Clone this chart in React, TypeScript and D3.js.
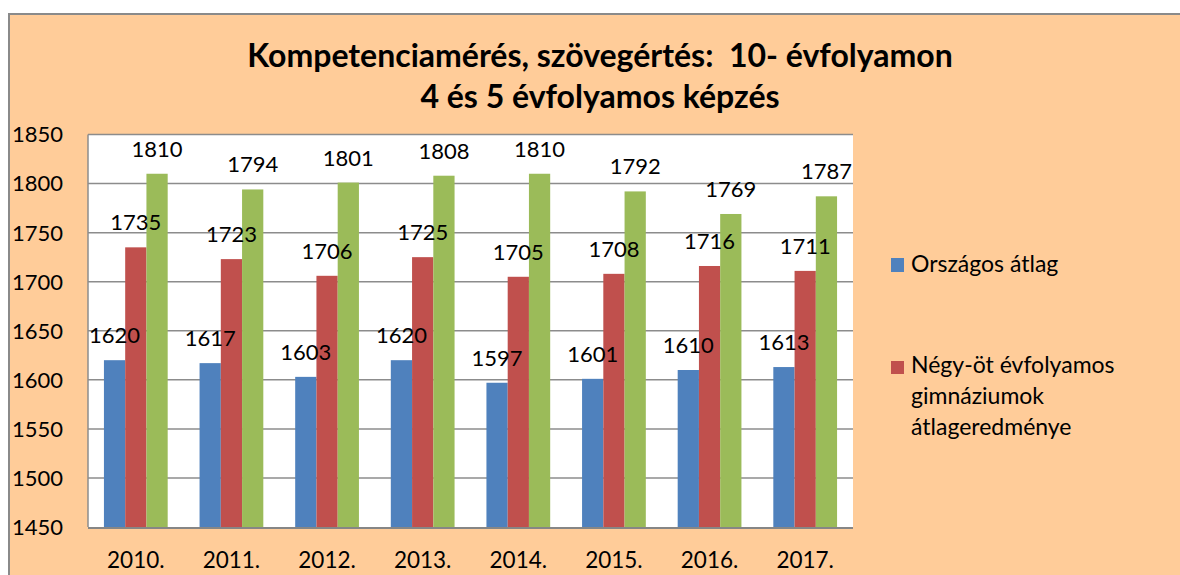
import React from "react";
import * as d3 from "d3";

const years = ["2010.", "2011.", "2012.", "2013.", "2014.", "2015.", "2016.", "2017."];
const orszagos = [1620, 1617, 1603, 1620, 1597, 1601, 1610, 1613];
const negyOt = [1735, 1723, 1706, 1725, 1705, 1708, 1716, 1711];
const harmadik = [1810, 1794, 1801, 1808, 1810, 1792, 1769, 1787];
const seriesNames = ["Országos átlag", "Négy-öt évfolyamos gimnáziumok átlageredménye", "Hat-nyolc évfolyamos gimnáziumok"];
const seriesColors = ["#4F81BD", "#C0504D", "#9BBB59"];
const yTicks = [1450, 1500, 1550, 1600, 1650, 1700, 1750, 1800, 1850];
const titleLines = ["Kompetenciamérés, szövegértés:  10- évfolyamon", "4 és 5 évfolyamos képzés"];
const legendLines2 = ["Négy-öt évfolyamos", "gimnáziumok", "átlageredménye"];

const FONT = "Lato, 'Open Sans', sans-serif";

export default function App() {
  const W = 1180, H = 575;
  const left = 88, right = 853, top = 134.5, bottom = 527;
  const series = [orszagos, negyOt, harmadik];
  const y = d3.scaleLinear().domain([1450, 1850]).range([bottom, top]);
  const x0 = d3.scaleBand<string>().domain(years).range([left, right]).padding(0);
  const bw = x0.bandwidth();
  const w = bw / 4.5;
  const x1 = d3.scaleBand<number>().domain([0, 1, 2]).range([0.75 * w, 3.75 * w]).padding(0);

  return (
    <div style={{ position: "fixed", left: 0, top: 0, width: W, height: H, overflow: "hidden" }}>
      <svg width={W} height={H} style={{ display: "block" }}>
        <rect x={0} y={0} width={W} height={H} fill="#ffffff" />
        <rect x={9} y={14} width={W - 9} height={H - 14} fill="#FFCC99" />
        <line x1={9} x2={W} y1={14} y2={14} stroke="#8a8a8a" strokeWidth={2} />
        <line x1={9} x2={9} y1={13} y2={H} stroke="#8a8a8a" strokeWidth={2} />
        {titleLines.map((t, i) => (
          <text key={i} x={600} y={i === 0 ? 67 : 108} textAnchor="middle" fontFamily={FONT} fontWeight="bold" fontSize={32} fill="#000" style={{ whiteSpace: "pre" }}>
            {t}
          </text>
        ))}
        <rect x={left} y={top} width={right - left} height={bottom - top} fill="#ffffff" />
        {yTicks.filter((t) => t > 1450).map((t) => (
          <line key={t} x1={left} x2={right} y1={y(t)} y2={y(t)} stroke="#8c8c8c" strokeWidth={1.5} />
        ))}
        <line x1={left} x2={left} y1={top} y2={bottom} stroke="#8c8c8c" strokeWidth={1.5} />
        {yTicks.map((t) => (
          <text key={t} x={63} y={y(t)} dy="0.36em" textAnchor="end" fontFamily={FONT} fontSize={22} fill="#000">
            {t}
          </text>
        ))}
        {years.map((yr, i) => (
          <g key={yr}>
            {series.map((s, j) => (
              <rect key={j} x={(x0(yr) as number) + (x1(j) as number)} y={y(s[i])} width={w} height={bottom - y(s[i])} fill={seriesColors[j]} />
            ))}
            <text x={(x0(yr) as number) + bw / 2} y={568} textAnchor="middle" fontFamily={FONT} fontSize={22.5} fill="#000">
              {yr}
            </text>
          </g>
        ))}
        {years.map((yr, i) => (
          <g key={"l" + yr}>
            {series.map((s, j) => (
              <text key={j} x={(x0(yr) as number) + (x1(j) as number) + w / 2} y={y(s[i]) - 17} textAnchor="middle" fontFamily={FONT} fontSize={22} fill="#000">
                {s[i]}
              </text>
            ))}
          </g>
        ))}
        <line x1={left} x2={right} y1={bottom + 1} y2={bottom + 1} stroke="#868686" strokeWidth={2} />
        <rect x={891} y={258} width={13} height={14} fill={seriesColors[0]} />
        <text x={911} y={272} fontFamily={FONT} fontSize={23} fill="#000">{seriesNames[0]}</text>
        <rect x={891} y={361} width={13} height={13} fill={seriesColors[1]} />
        {legendLines2.map((l, k) => (
          <text key={k} x={911} y={373 + k * 31} fontFamily={FONT} fontSize={23} fill="#000">{l}</text>
        ))}
      </svg>
    </div>
  );
}
